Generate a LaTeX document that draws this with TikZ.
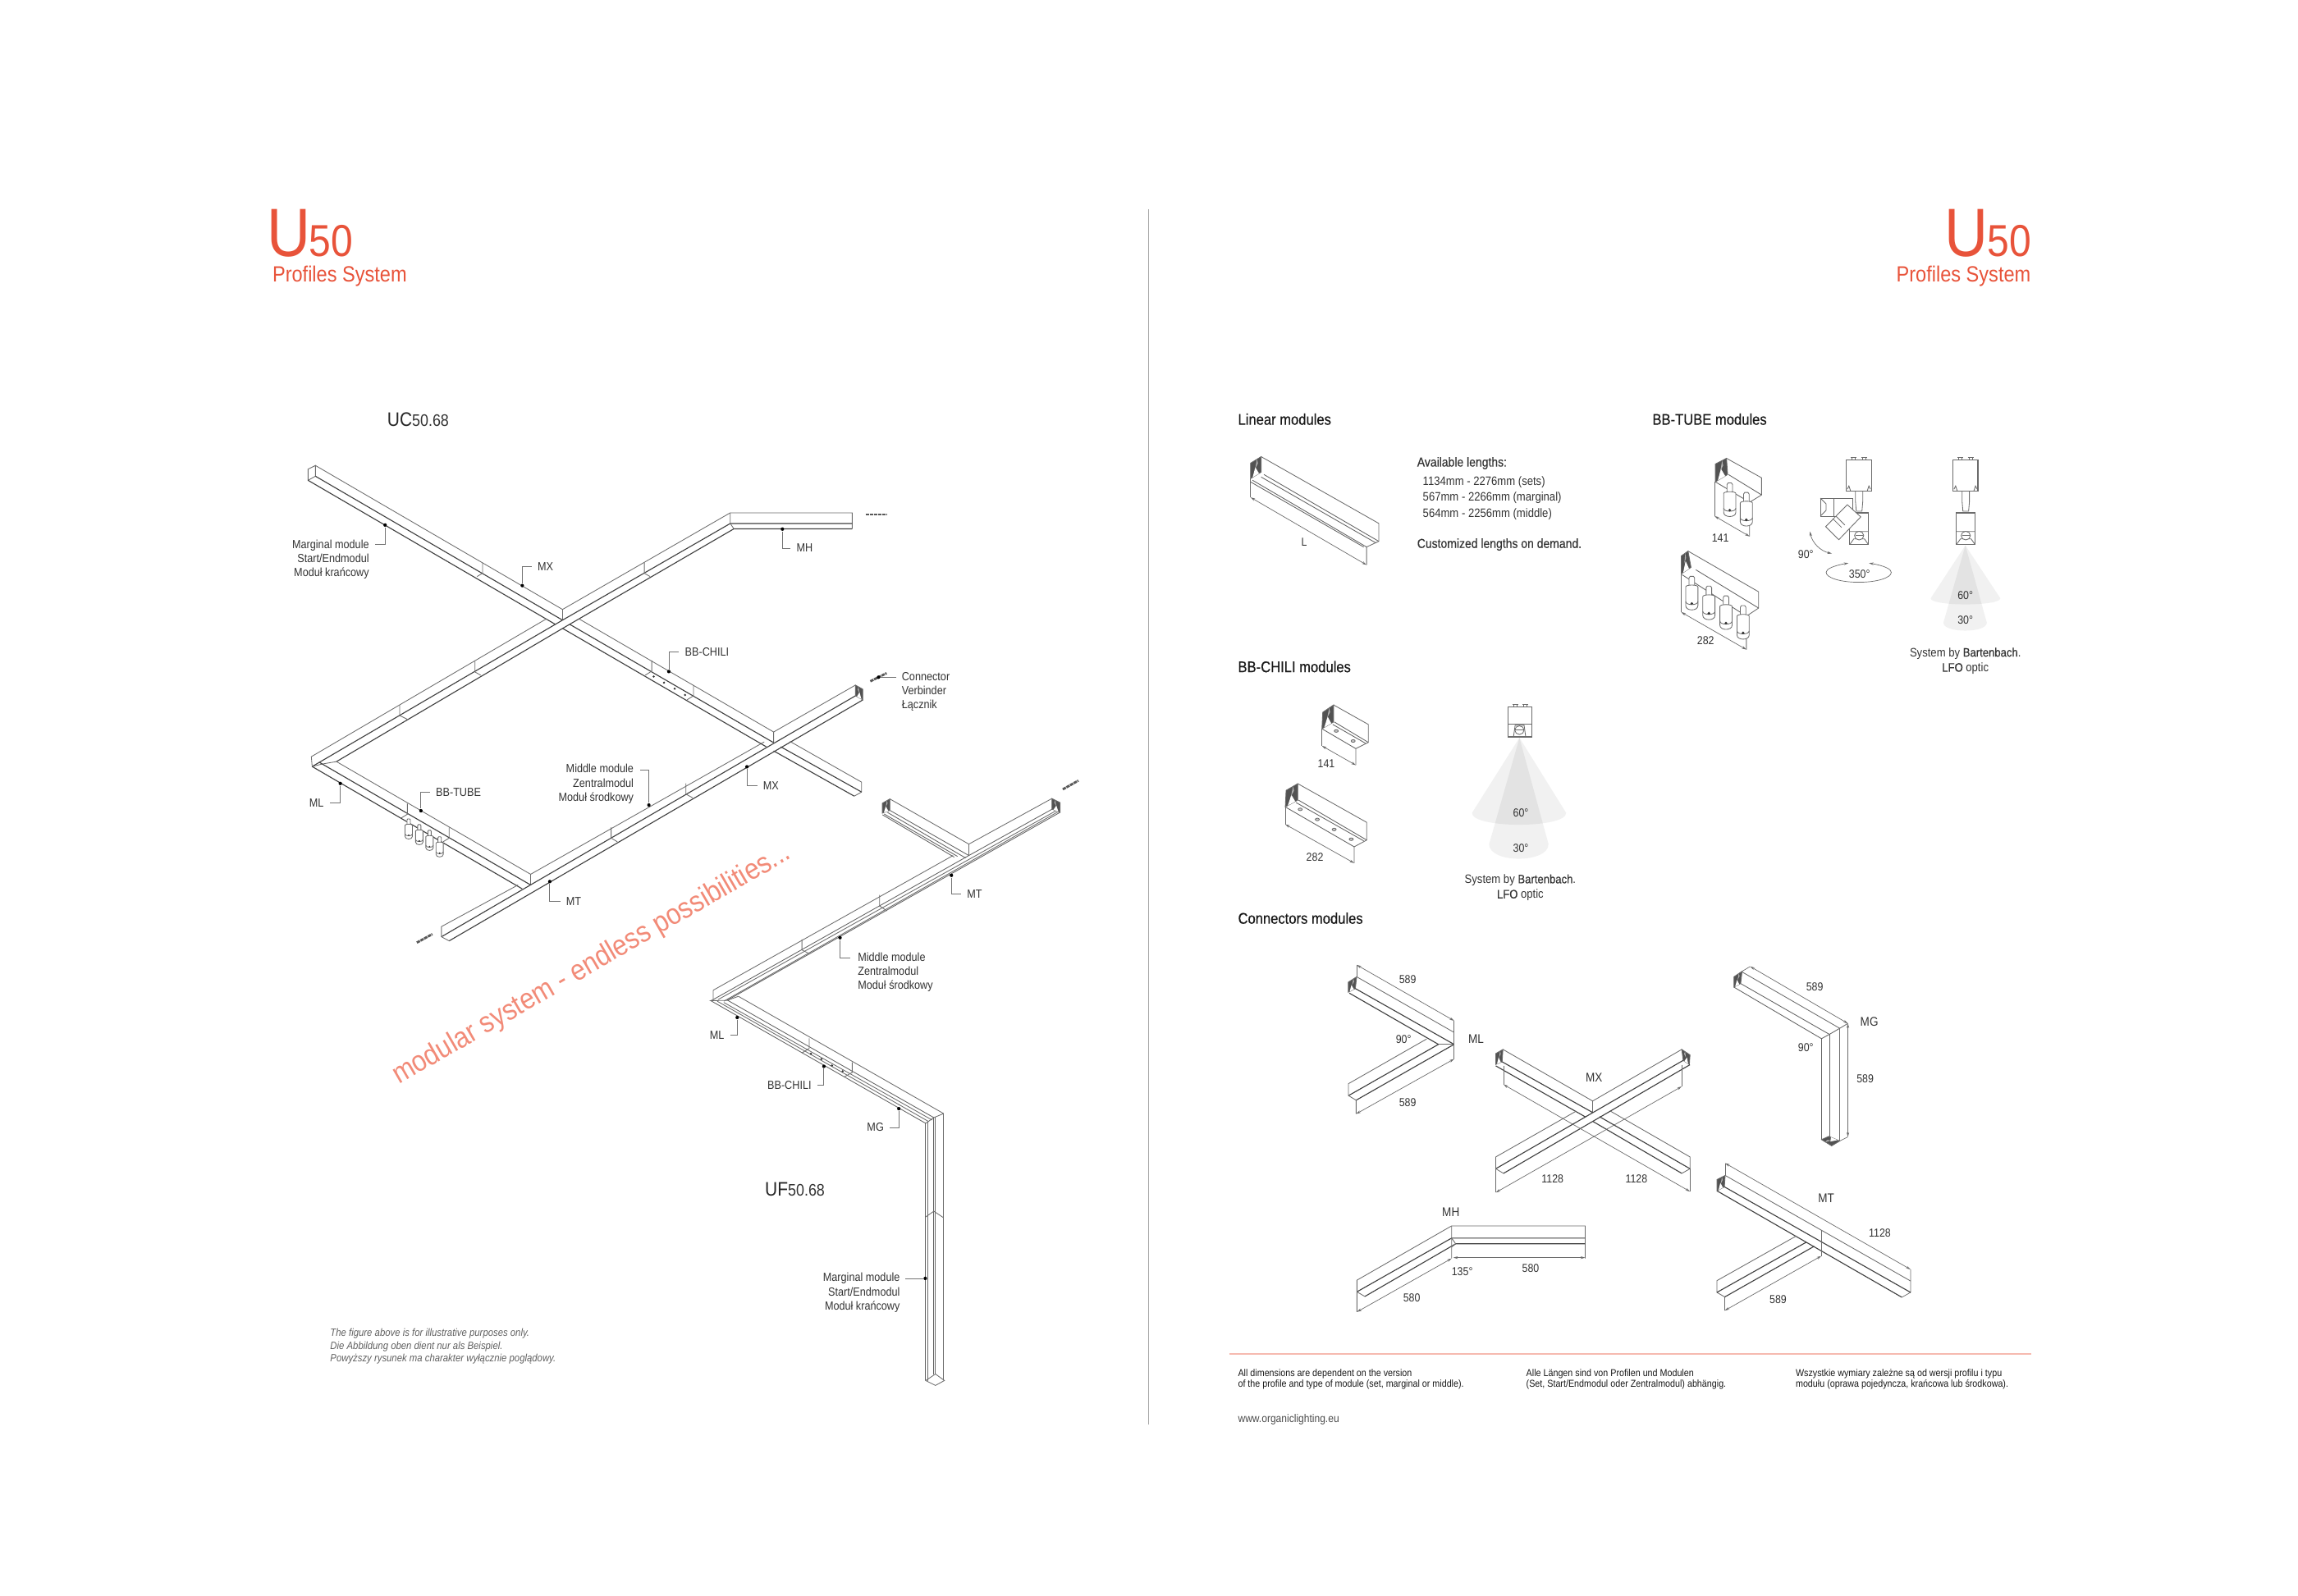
\documentclass[tikz,border=0pt]{standalone}
\usepackage{fontspec}
\setmainfont[FakeStretch=0.88]{Liberation Sans}
\newfontfamily\medf[FakeStretch=0.88,FakeBold=0.3]{Liberation Sans}
\usetikzlibrary{calc,arrows.meta}
\newcommand{\fpx}[1]{\fontsize{\fpeval{#1*0.2822}pt}{\fpeval{#1*0.2822*1.2}pt}\selectfont}
\newcommand{\fpxl}[2]{\fontsize{\fpeval{#1*0.2822}pt}{\fpeval{#2*0.2822}pt}\selectfont}
\definecolor{ored}{HTML}{E8533A}
\definecolor{osalmon}{HTML}{F28B78}
\definecolor{txt}{HTML}{333333}
\tikzset{
 thl/.style={line width=0.24pt,draw=black!58},
 drk/.style={line width=0.32pt,draw=black!75},
 trk/.style={line width=0.24pt,draw=black!62},
 dimn/.style={line width=0.2pt,draw=black!58,{Stealth[length=1.6pt,width=0.9pt]}-{Stealth[length=1.6pt,width=0.9pt]}},
 ext/.style={line width=0.2pt,draw=black!58},
 lead/.style={line width=0.24pt,draw=black!55},
 lab/.style={text=txt,inner sep=0pt,font=\fpxl{14.5}{17.3},align=left},
 dotn/.style={circle,fill=black,inner sep=0pt,minimum size=1.2pt},
 conn/.style={line width=0.8pt,draw=black!65,dash pattern=on 1.2pt off 0.25pt},
 head/.style={text=black!90,inner sep=0pt,anchor=west,font=\medf\fpx{19}},
 dimt/.style={text=txt,inner sep=0pt,font=\fpx{14.2}},
 cone/.style={fill=black,fill opacity=0.055,draw=none},
}
\newcommand{\pcap}[4]{%
 \draw[thl,fill=black!68] #1 -- #2 -- #3 -- #4 -- cycle;
 \fill[white] ($#4!.2!#3$) -- ($#4!.8!#3$) -- ($#4!.55!#2$) -- cycle;
 \fill[black!30] ($#1!.3!#3$) -- ($#1!.55!#3$) -- ($#1!.4!#2$) -- cycle;}
\newcommand{\spot}[3]{\begin{scope}[shift={(#1,#2)},scale=#3]
 \draw[thl,fill=white] (-3.4,13)--(-3.4,2)--(-2,0)--(2,0)--(3.4,2)--(3.4,13);
 \draw[thl,fill=white] (-7.5,13) -- (-7.5,36) .. controls (-7.5,43) and (7.5,43) .. (7.5,36) -- (7.5,13) .. controls (7.5,10) and (-7.5,10) .. (-7.5,13) -- cycle;
 \draw[thl] (-7.5,31) .. controls (-7.5,36) and (7.5,36) .. (7.5,31);
 \fill[black!80] (0,33.5) circle[radius=0.5pt];
\end{scope}}
\newcommand{\lugs}{%
 \draw[thl] (7,0)--(7,-3) (11,0)--(11,-3) (5.5,-3)--(12.5,-3) (19.5,0)--(19.5,-3) (23.5,0)--(23.5,-3) (18,-3)--(25,-3);}
\newcommand{\device}[2]{\begin{scope}[shift={(#1,#2)}]
 \draw[thl,line width=0.35pt] (0,0) rectangle (30.5,38);
 \lugs
 \draw[thl] (1,36) -- (3,32) -- (5,38) (29.5,36) -- (27.5,32) -- (25.5,38);
 \draw[thl] (11,38) -- (11,51) -- (12,63) -- (19,63) -- (20,51) -- (20,38);
 \draw[thl,line width=0.35pt] (4,65) rectangle (27,104);
 \draw[thl] (4,88) -- (27,88) (4,104) -- (9,97) -- (22,97) -- (27,104);
 \draw[thl,fill=white] (15.5,93) ellipse[x radius=1.6pt,y radius=1.5pt];
 \draw[thl] (11,93) -- (20,93);
\end{scope}}
\begin{document}
\begin{tikzpicture}[x=0.00992cm,y=-0.00992cm]
\useasboundingbox (0,0) rectangle (2822.58,1960.69);
\fill[white] (0,0) rectangle (2822.58,1960.69);
%---- titles
\node[text=ored,inner sep=0pt,anchor=base west] (tU) at (327,315) {\fpx{84}U};
\node[text=ored,inner sep=0pt,anchor=base west] (t50) at (379,315) {\fpx{55}50};
\node[text=ored,inner sep=0pt,anchor=base west] (tPS) at (334,346) {\fpx{27}Profiles System};
\node[text=ored,inner sep=0pt,anchor=base east] (t50r) at (2496,315) {\fpx{55}50};
\node[text=ored,inner sep=0pt,anchor=base east] (tUr) at (2443,315) {\fpx{84}U};
\node[text=ored,inner sep=0pt,anchor=base east] (tPSr) at (2495,346) {\fpx{27}Profiles System};
\draw[line width=0.4pt,draw=black!35] (1411,257) -- (1411,1750);
%---- UC drawing
\begin{scope}[xscale=1.005,yscale=1.0104,xshift=0.015cm,yshift=0.02cm]
 % NW-SE bar 1
 \draw[thl] (384,568) -- (375,572.4) -- (375,586) -- (384,581) -- cycle;
 \draw[thl] (384,568) -- (686,743) -- (686,756);
 \draw[drk] (384,581) -- (686,756);
 \draw[drk] (375,586) -- (677,761);
 % NE arm to MH
 \draw[thl] (686,743) -- (891,625.5) -- (1040,625.5) -- (1040,645);
 \draw[drk] (686,756) -- (891,638.5) -- (1040,638.5);
 \draw[drk] (686.7,765.7) -- (895.4,645) -- (1040,645);
 \draw[thl] (891,625.5) -- (891,638.5) -- (895.4,645);
 % lower-left of crossing 1
 \draw[thl] (379,922) -- (666,754.6);
 \draw[drk] (380,934) -- (686,756);
 \draw[drk] (409.7,928) -- (686.7,765.7);
 \draw[thl] (379,922) -- (380,934) -- (392,931) -- (409.7,928);
 % ML rail
 \draw[drk] (380,934) -- (636.7,1082.7);
 \draw[drk] (389,929) -- (647,1078);
 \draw[thl] (409.7,928) -- (647,1065) -- (647,1078);
 % rail 2
 \draw[thl] (647,1065) -- (932.6,904);
 \draw[thl] (944,892) -- (1044,835);
 \draw[drk] (538,1141) -- (1044,848);
 \draw[drk] (547.4,1146) -- (1053,853);
 \draw[thl] (538,1128.6) -- (631.6,1078);
 \draw[thl] (538,1128.6) -- (538,1141) -- (547.4,1146);
 \pcap{(1044,835)}{(1053,840)}{(1053,853)}{(1044,848)}
 % NW-SE bar 2
 \draw[thl] (706,754.4) -- (944,892) -- (944,905);
 \draw[drk] (694.6,761) -- (944,905);
 \draw[drk] (686,766) -- (935,910);
 \draw[thl] (964,903.5) -- (1051.5,953) -- (1051.5,965) -- (1042.5,970);
 \draw[drk] (952.7,910) -- (1051.5,965);
 \draw[drk] (944,915) -- (1042.5,970);
 % joints
 \draw[thl] (588.3,686.3) -- (588.3,698.8) -- (581.6,703);
 \draw[thl] (786,686) -- (786,699) -- (793,703);
 \draw[thl] (579,806) -- (579,819) -- (586,823);
 \draw[thl] (487,859.5) -- (487,872) -- (496,876.4);
 \draw[thl] (795,805) -- (795,818) -- (787,823);
 \draw[thl] (846,835) -- (846,848) -- (838,853);
 \draw[thl] (496.4,979) -- (496.4,992) -- (489,996.5);
 \draw[thl] (547.4,1008) -- (547.4,1021) -- (540,1025.5);
 \draw[thl] (836.7,954.5) -- (836.7,967.5) -- (845,972);
 \draw[thl] (745.4,1008) -- (745.4,1021) -- (753,1025.5);
 \foreach \a/\b in {797.4/824.6,810/832,823/839.4,835.7/847} \fill[black!80] (\a,\b) circle[radius=0.4pt];
\end{scope}
\spot{502}{1006}{0.6}\spot{515}{1013}{0.6}\spot{527.6}{1020}{0.6}\spot{540}{1028}{0.6}
\draw[conn] (1063,632) -- (1090,632);
\draw[conn] (1069,837) -- (1089,827);
\draw[conn] (512,1158) -- (531,1147.6);
\draw[conn] (1305.4,969.7) -- (1324.5,959);
%---- UC labels
\node[inner sep=0pt,anchor=base west,text=black!85] (ucT) at (475,524) {\fpx{24}UC\fpx{20.5}\textcolor{txt}{50.68}};
\node[lab,anchor=east,align=right] (l1) at (454,687) {Marginal module\\Start/Endmodul\\Moduł krańcowy};
\coordinate (c1) at (461,669); \node[dotn] (d1) at (473,645) {};
\draw[lead] (c1) -| (d1);
\node[lab,anchor=west,inner xsep=1.9pt] (l2) at (653,696) {MX}; \node[dotn] (d2) at (641.5,719.4) {};
\draw[lead] (l2.west) -| (d2);
\node[lab,anchor=west,inner xsep=1.9pt] (l3) at (971,673.4) {MH}; \node[dotn] (d3) at (961,650) {};
\draw[lead] (l3.west) -| (d3);
\node[lab,anchor=west,inner xsep=1.9pt] (l4) at (834,801) {BB-CHILI}; \node[dotn] (d4) at (821.5,825) {};
\draw[lead] (l4.west) -| (d4);
\node[lab,anchor=west] (l5) at (1107,850) {Connector\\Verbinder\\Łącznik};
\coordinate (c5) at (1101,832); \node[dotn] (d5) at (1079,832) {};
\draw[lead] (c5) -- (d5);
\node[lab,anchor=west,inner xsep=1.9pt] (l6) at (930,965.6) {MX}; \node[dotn] (d6) at (917.4,942) {};
\draw[lead] (l6.west) -| (d6);
\node[lab,anchor=east,align=right] (l7) at (779,963) {Middle module\\Zentralmodul\\Moduł środkowy};
\coordinate (c7) at (786.6,946); \node[dotn] (d7) at (797,989) {};
\draw[lead] (c7) -| (d7);
\node[lab,anchor=east,inner xsep=1.9pt] (l8) at (405,986.4) {ML}; \node[dotn] (d8) at (418,962.5) {};
\draw[lead] (l8.east) -| (d8);
\node[lab,anchor=west,inner xsep=1.9pt] (l9) at (528,973.3) {BB-TUBE}; \node[dotn] (d9) at (517,996) {};
\draw[lead] (l9.west) -| (d9);
\node[lab,anchor=west,inner xsep=1.9pt] (l10) at (688,1107) {MT}; \node[dotn] (d10) at (675.3,1083) {};
\draw[lead] (l10.west) -| (d10);
\node[text=osalmon,inner sep=0pt,rotate=30] (red) at (727,1185) {\fpx{36}modular system - endless possibilities...};
%---- UF drawing
\draw[thl] (1093,981.5) -- (1190,1037) -- (1190,1051);
\draw[trk] (1093,995.5) -- (1190,1051);
\draw[trk] (1090,998) -- (1186,1054);
\draw[trk] (1086,1000) -- (1176,1052);
\draw[trk] (1084,1001) -- (1172,1053);
\pcap{(1093,981.5)}{(1083.8,986.7)}{(1083.8,999)}{(1093,995.5)}
\draw[thl] (876,1216.5) -- (1170.6,1051);
\draw[thl] (1190,1037) -- (1292,981);
\draw[trk] (876,1228) -- (1190,1051) -- (1296,992);
\draw[thl] (882,1228) -- (1298,995.5);
\draw[thl] (889,1230) -- (1300,997);
\draw[trk] (893,1229) -- (1302,998);
\pcap{(1292,981)}{(1302,986)}{(1302,998)}{(1292,994)}
\draw[thl] (1080.4,1099.5) -- (1080.4,1113) -- (1089.4,1119);
\draw[thl] (985,1154) -- (985,1167) -- (995,1172);
\draw[thl] (876,1216.5) -- (876,1228) -- (873,1229.3) -- (893,1229) -- (907,1224);
\draw[trk] (873,1229.3) -- (1137,1380);
\draw[thl] (881,1230) -- (1141,1378);
\draw[thl] (889,1231.5) -- (1145,1376);
\draw[trk] (894,1229) -- (1147,1373);
\draw[thl] (907,1224) -- (1159,1368);
\draw[thl] (1137,1380) -- (1147,1373) -- (1159,1368);
\draw[thl] (994,1275.5) -- (994,1288) -- (985,1293.5);
\draw[thl] (1046.7,1305) -- (1046.7,1317.5) -- (1037,1323);
\foreach \a/\b in {996/1294.5,1009/1301,1022/1309,1035/1316} \fill[black!80] (\a,\b) circle[radius=0.4pt];
\draw[trk] (1137,1380) -- (1137,1696);
\draw[thl] (1140,1378) -- (1140,1697);
\draw[trk] (1147,1373) -- (1147,1688);
\draw[thl] (1149,1372) -- (1149,1688);
\draw[thl] (1159,1368) -- (1159,1696);
\draw[thl] (1137,1495) -- (1147,1488) -- (1159,1496);
\draw[thl] (1137,1696) -- (1149,1702) -- (1160,1696) -- (1149,1688) -- cycle;
%---- UF labels
\node[inner sep=0pt,anchor=base west,text=black!85] (ufT) at (939,1469) {\fpx{24}UF\fpx{20.5}\textcolor{txt}{50.68}};
\node[lab,anchor=west,inner xsep=1.9pt] (u1) at (1180.4,1098.5) {MT}; \node[dotn] (ud1) at (1168.6,1075.4) {};
\draw[lead] (u1.west) -| (ud1);
\node[lab,anchor=west] (u2) at (1053,1194.4) {Middle module\\Zentralmodul\\Moduł środkowy};
\coordinate (uc2) at (1044,1176.5); \node[dotn] (ud2) at (1031.8,1152) {};
\draw[lead] (uc2) -| (ud2);
\node[lab,anchor=east,inner xsep=1.9pt] (u3) at (897,1272) {ML}; \node[dotn] (ud3) at (905.5,1250) {};
\draw[lead] (u3.east) -| (ud3);
\node[lab,anchor=east,inner xsep=1.9pt] (u4) at (1004,1333.5) {BB-CHILI}; \node[dotn] (ud4) at (1012,1310) {};
\draw[lead] (u4.east) -| (ud4);
\node[lab,anchor=east,inner xsep=1.9pt] (u5) at (1093,1385) {MG}; \node[dotn] (ud5) at (1104,1362) {};
\draw[lead] (u5.east) -| (ud5);
\node[lab,anchor=east,align=right] (u6) at (1106,1588) {Marginal module\\Start/Endmodul\\Moduł krańcowy};
\coordinate (uc6) at (1112,1570.5); \node[dotn] (ud6) at (1136.5,1570.5) {};
\draw[lead] (uc6) -- (ud6);
\node[anchor=west,inner sep=0pt,text=black!62,align=left,font=\itshape\fpxl{13}{15.8}] (note) at (405,1654) {The figure above is for illustrative purposes only.\\Die Abbildung oben dient nur als Beispiel.\\Powyższy rysunek ma charakter wyłącznie poglądowy.};
%---- Right page headings
\node[head] (h1) at (1520,515) {Linear modules};
\node[head] (h2) at (2029,515) {BB-TUBE modules};
\node[head] (h3) at (1520,819) {BB-CHILI modules};
\node[head] (h4) at (1520,1128) {Connectors modules};
%---- Linear module
\pcap{(1549,561)}{(1536,569)}{(1536,588)}{(1549,580)}
\draw[thl] (1549,561) -- (1693.5,643) -- (1693.5,665) -- (1678.5,672) -- (1678.5,694);
\draw[trk] (1552.5,583) -- (1693.5,665);
\draw[trk] (1549,586) -- (1690,667);
\draw[trk] (1538.5,590) -- (1678.5,672);
\draw[trk] (1536,592) -- (1675,672);
\draw[thl] (1536,588) -- (1536,611);
\draw[dimn] (1536,611) -- (1678.5,694);
\node[dimt] (tL) at (1602,666) {L};
\node[lab,anchor=west,font=\medf\fpx{16}] (av) at (1740,569) {Available lengths:};
\node[lab,anchor=west,font=\fpxl{15}{19.5}] (avl) at (1747,612) {1134mm - 2276mm (sets)\\567mm - 2266mm (marginal)\\564mm - 2256mm (middle)};
\node[lab,anchor=west,font=\medf\fpx{16}] (cu) at (1740,669) {Customized lengths on demand.};
%---- BB-TUBE modules
\pcap{(2120.6,563)}{(2107,570)}{(2107,592)}{(2122,583)}
\draw[thl] (2120.6,563) -- (2163.7,587) -- (2163.7,608) -- (2149,617) -- (2149,659);
\draw[trk] (2123,583) -- (2163.7,608);
\draw[trk] (2107,592) -- (2149,617);
\draw[thl] (2106,592) -- (2106,634);
\draw[dimn] (2106,634) -- (2149,659);
\spot{2124.6}{593.3}{1}\spot{2145}{605}{1}
\node[dimt] (t141) at (2113,661) {141};
\pcap{(2073.4,677)}{(2065,683)}{(2065,705)}{(2077,697)}
\draw[thl] (2073.4,677) -- (2160,727) -- (2160,747) -- (2145,757) -- (2145,798);
\draw[trk] (2083,700) -- (2160,747);
\draw[trk] (2066,706) -- (2145,757);
\draw[thl] (2065,705) -- (2065,752);
\draw[dimn] (2065,752) -- (2145,798);
\spot{2078}{708}{1}\spot{2099}{720}{1}\spot{2120}{732}{1}\spot{2141}{744}{1}
\node[dimt] (t282) at (2095,787) {282};
% tilting device
\device{2268}{565}
\draw[thl] (2236,612) rectangle (2276,634);
\draw[thl] (2252.5,612) -- (2252.5,634) (2236,612) -- (2243,619) -- (2243,627) -- (2236,634);
\draw[thl,fill=white] (2269,620) -- (2285.5,635) -- (2258.6,663) -- (2242.4,647) -- cycle;
\draw[thl] (2251,637) -- (2262,648);
\draw[thl] (2255,634) -- (2266,645);
\draw[dimn] (2223,653) .. controls (2226,667) and (2236,677) .. (2250,680);
\node[dimt] (t90) at (2218,681) {90°};
\draw[dimn] (2270.4,691.7) .. controls (2252,695) and (2243,699) .. (2243,703) .. controls (2243,710) and (2261,715.3) .. (2283,715.3) .. controls (2305,715.3) and (2323,710) .. (2323,703) .. controls (2323,699) and (2314,695) .. (2295.6,691.7);
\node[dimt] (t350) at (2284,705) {350°};
% LFO device
\fill[cone] (2414,670) -- (2371.4,735) .. controls (2371.4,745) and (2457,745) .. (2457,735) -- cycle;
\fill[cone] (2414,670) -- (2387,765) .. controls (2387,778) and (2440.4,778) .. (2440.4,765) -- cycle;
\device{2399}{565}
\node[dimt] (t60a) at (2414,732) {60°};
\node[dimt] (t30a) at (2414,762) {30°};
\node[lab,align=center,font=\fpxl{15}{18.5}] (capa) at (2414,812) {System by {\medf Bartenbach}.\\{\medf LFO} optic};
%---- BB-CHILI modules
\pcap{(1638,866)}{(1624.7,875)}{(1623.7,895.3)}{(1638,887)}
\draw[thl] (1638,866) -- (1680.7,890) -- (1680.7,912) -- (1665.3,919.7) -- (1665.3,940);
\draw[trk] (1639,887) -- (1680.7,912);
\draw[trk] (1637,890) -- (1677,913);
\draw[trk] (1623.7,895.3) -- (1665.3,919.7);
\draw[thl] (1623.7,895) -- (1623.7,916.3);
\draw[dimn] (1623.7,916.3) -- (1665.3,940);
\foreach \a/\b in {1641.3/898,1662/910.3} \draw[thl,fill=black!20] (\a,\b) ellipse[x radius=0.7pt,y radius=0.45pt];
\node[dimt] (c141) at (1629,938) {141};
\pcap{(1594,962.7)}{(1579.7,971)}{(1578.7,991.3)}{(1594,983)}
\draw[thl] (1594,962.7) -- (1678.7,1010.3) -- (1678.7,1032) -- (1663.3,1040.3) -- (1663.3,1060.3);
\draw[trk] (1595,983) -- (1678.7,1032);
\draw[trk] (1592,986) -- (1675,1033);
\draw[trk] (1578.7,991.3) -- (1663.3,1040.3);
\draw[thl] (1578.7,991) -- (1578.7,1012.7);
\draw[dimn] (1578.7,1012.7) -- (1663.3,1060.3);
\foreach \a/\b in {1597/994.3,1618/1006.7,1638.7/1019,1659.7/1031} \draw[thl,fill=black!20] (\a,\b) ellipse[x radius=0.7pt,y radius=0.45pt];
\node[dimt] (c282) at (1615,1052.7) {282};
\fill[cone] (1866.3,906.3) -- (1808,998.7) .. controls (1808,1018) and (1923.7,1018) .. (1923.7,998.7) -- cycle;
\fill[cone] (1866.3,906.3) -- (1829,1037) .. controls (1829,1061) and (1902,1061) .. (1902,1037) -- cycle;
\draw[thl,line width=0.35pt] (1852,868.7) rectangle (1881.3,905.3);
\begin{scope}[shift={(1852,868.7)}]\lugs\end{scope}
\draw[thl] (1852,889.7) -- (1881.3,889.7);
\draw[thl] (1859,905.3) -- (1861,891) -- (1872,891) -- (1874,905.3);
\draw[thl,fill=white] (1866.3,897) ellipse[x radius=1.6pt,y radius=1.5pt];
\draw[thl] (1861,897) -- (1872,897);
\node[dimt] (c60) at (1868,999) {60°};
\node[dimt] (c30) at (1868,1042) {30°};
\node[lab,align=center,font=\fpxl{15}{18.5}] (capb) at (1867.3,1090.5) {System by {\medf Bartenbach}.\\{\medf LFO} optic};
%---- Connector ML
\pcap{(1666.4,1200)}{(1656,1206.6)}{(1656,1219)}{(1664.7,1214.4)}
\draw[thl] (1666.4,1200) -- (1786,1268.3);
\draw[drk] (1664.7,1214.4) -- (1786,1283);
\draw[drk] (1657.3,1220) -- (1766.8,1283);
\draw[thl] (1766.8,1283) -- (1786,1283);
\draw[drk] (1786,1283) -- (1665.7,1351.6);
\draw[drk] (1766.8,1283) -- (1656.3,1346);
\draw[thl] (1752.3,1276.4) -- (1656.3,1331.3) -- (1656.3,1346) -- (1665.7,1351.6) -- (1665.7,1368.4);
\draw[ext] (1666.4,1185.4) -- (1666.4,1200) (1786,1254) -- (1786,1301);
\draw[dimn] (1666.4,1185.4) -- (1786,1254);
\draw[dimn] (1665.7,1368.4) -- (1786,1301);
\node[dimt] (m1) at (1729,1203) {589};
\node[dimt] (m2) at (1729,1354) {589};
\node[dimt] (m3) at (1724,1277) {90°};
\node[dimt,font=\fpx{15.5}] (m4) at (1813,1276) {ML};
%---- Connector MX
\pcap{(1846,1289.2)}{(1837.2,1294.3)}{(1837.2,1307.7)}{(1845,1304.4)}
\pcap{(2065.7,1289.2)}{(2075.8,1296)}{(2075,1307.7)}{(2067.4,1302.7)}
\draw[thl] (1846,1289.2) -- (1956.2,1352.6) -- (2065.7,1289.2);
\draw[thl] (1956.2,1352.6) -- (1956.2,1366.7);
\draw[drk] (1845,1304.4) -- (1956.2,1366.7);
\draw[drk] (1837.2,1309.4) -- (1947.8,1372.4);
\draw[drk] (1837.2,1435.8) -- (2067.4,1302.7);
\draw[drk] (1846.7,1441.5) -- (2075.7,1308);
\draw[thl] (1837.2,1421.3) -- (1936,1365);
\draw[thl] (1837.2,1421.3) -- (1837.2,1435.8) -- (1846.7,1441.5);
\draw[thl] (1978,1365) -- (2075.8,1421.3) -- (2075.8,1435.8) -- (2065.7,1441.5);
\draw[drk] (1964.6,1371.8) -- (2075.8,1435.8);
\draw[drk] (1956.2,1377.5) -- (2065.7,1441.5);
\draw[ext] (1846.7,1309) -- (1846.7,1332.3) (2065.7,1308) -- (2065.7,1334.7);
\draw[ext] (1837.2,1435.8) -- (1837.2,1465) (2075.8,1435.8) -- (2075.8,1463.8);
\draw[dimn] (1846.7,1332.3) -- (2075.8,1463.8);
\draw[dimn] (2065.7,1334.7) -- (1837.2,1465);
\node[dimt,font=\fpx{15.5}] (x1) at (1958,1324) {MX};
\node[dimt] (x2) at (1907,1448) {1128};
\node[dimt] (x3) at (2010,1448) {1128};
%---- Connector MG
\pcap{(2139.7,1193.3)}{(2129.7,1200)}{(2129.7,1212.7)}{(2138,1208.3)}
\draw[thl] (2139.7,1194) -- (2259.7,1263.3) -- (2269.7,1257.3);
\draw[ext] (2139.7,1193.3) -- (2149.7,1187.3);
\draw[dimn] (2149.7,1187.3) -- (2269.7,1257.3);
\draw[trk] (2138,1208.3) -- (2247,1270.7) -- (2259.7,1263.3);
\draw[trk] (2129.7,1212.7) -- (2237.3,1276) -- (2247,1270.7);
\draw[trk] (2237.3,1276) -- (2237.3,1400);
\draw[trk] (2247,1270.7) -- (2247,1396);
\draw[thl] (2259.7,1263.3) -- (2259.7,1401.7);
\draw[dimn] (2269.7,1257.3) -- (2269.7,1396.7);
\draw[ext] (2259.7,1401.7) -- (2269.7,1396.7);
\pcap{(2237.3,1400)}{(2249.7,1407.7)}{(2259.7,1401.7)}{(2246.3,1396)}
\node[dimt] (g1) at (2229,1212) {589};
\node[dimt] (g2) at (2291,1325) {589};
\node[dimt] (g3) at (2218,1287) {90°};
\node[dimt,font=\fpx{15.5}] (g4) at (2296,1255) {MG};
%---- Connector MH
\draw[thl] (1666.7,1572.7) -- (1783,1506) -- (1947,1506) -- (1947,1546);
\draw[drk] (1666.7,1587) -- (1783,1521) -- (1947,1521);
\draw[drk] (1676.4,1592.7) -- (1788,1528) -- (1947,1528);
\draw[thl] (1783,1506) -- (1783,1546) (1783,1521) -- (1788,1528) -- (1783,1532);
\draw[thl] (1666.7,1572.7) -- (1666.7,1611.7) (1666.7,1587) -- (1676.4,1592.7);
\draw[dimn] (1785,1545) -- (1947,1545);
\draw[dimn] (1666.7,1611.7) -- (1783,1546);
\node[dimt,font=\fpx{15.5}] (h1m) at (1782,1489) {MH};
\node[dimt] (h2m) at (1796,1562.5) {135°};
\node[dimt] (h3m) at (1880,1558) {580};
\node[dimt] (h4m) at (1734,1594) {580};
%---- Connector MT
\pcap{(2119,1444)}{(2109,1449)}{(2109,1463)}{(2118,1458)}
\draw[ext] (2119,1429) -- (2119,1444);
\draw[dimn] (2119,1429) -- (2346.7,1559.5);
\draw[thl] (2119,1444) -- (2346.7,1573.7);
\draw[ext] (2346.7,1559.5) -- (2346.7,1587.7) -- (2336,1593.7);
\draw[drk] (2118,1458) -- (2346.7,1587.7);
\draw[drk] (2109,1463) -- (2336,1593.7);
\draw[thl] (2206.5,1518.3) -- (2108.8,1573.3) -- (2108.8,1587.7) -- (2118.5,1593.3) -- (2118.5,1610);
\draw[drk] (2218.7,1526) -- (2108.8,1587.7);
\draw[drk] (2228.4,1531) -- (2118.5,1593.3);
\draw[ext] (2237,1511) -- (2237,1543);
\draw[dimn] (2237,1543) -- (2118.5,1610);
\node[dimt,font=\fpx{15.5}] (t1m) at (2243,1472) {MT};
\node[dimt] (t2m) at (2309,1515) {1128};
\node[dimt] (t3m) at (2184,1596) {589};
%---- Footer
\draw[line width=0.55pt,draw=ored!40] (1510,1663) -- (2495,1663);
\node[lab,anchor=north west,text=black!90,font=\fpxl{12.3}{13.5}] (f1) at (1520,1681) {All dimensions are dependent on the version\\of the profile and type of module (set, marginal or middle).};
\node[lab,anchor=north west,text=black!90,font=\fpxl{12.3}{13.5}] (f2) at (1874,1681) {Alle Längen sind von Profilen und Modulen\\(Set, Start/Endmodul oder Zentralmodul) abhängig.};
\node[lab,anchor=north west,text=black!90,font=\fpxl{12.3}{13.5}] (f3) at (2205,1681) {Wszystkie wymiary zależne są od wersji profilu i typu\\modułu (oprawa pojedyncza, krańcowa lub środkowa).};
\node[lab,anchor=west,text=black!70,font=\fpx{13.8}] (f4) at (1520,1744) {www.organiclighting.eu};
\end{tikzpicture}
\end{document}
